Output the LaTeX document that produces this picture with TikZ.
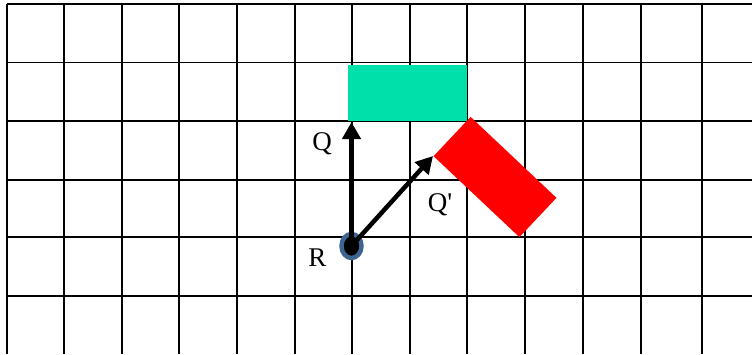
\documentclass[tikz,border=0pt]{standalone}
\usepackage{fontspec}
\setmainfont{Liberation Serif}[Ligatures=TeXOff]
\usetikzlibrary{arrows.meta,shapes.geometric}
\definecolor{tealgreen}{HTML}{00E0AA}
\definecolor{pureRed}{HTML}{FF0000}
\definecolor{ringblue}{HTML}{3E6492}
\tikzset{
  gridline/.style={line width=1.7pt,black},
  vecarrow/.style={line width=4.5pt,black,-{Triangle[length=17pt,width=18pt]}},
  lbl/.style={inner sep=0pt,anchor=base,font=\fontsize{27}{30}\selectfont},
}
\begin{document}
\begin{tikzpicture}[x=1pt,y=-1pt]
\useasboundingbox (0,0) rectangle (752,354);
% grid
\foreach \gx in {7,64,122,179,237,295,352,410,467,525,583,641,702}
  \draw[gridline] (\gx,4) -- (\gx,354);
\foreach \gy in {4,62.5,121,180,237,296}
  \draw[gridline] (7,\gy) -- (752,\gy);
% rectangles
\node[fill=tealgreen,minimum width=119pt,minimum height=56pt,inner sep=0pt] (green) at (407.5,93) {};
\node[fill=pureRed,minimum width=118pt,minimum height=54pt,inner sep=0pt,rotate=-43.3] (red) at (495,177) {};
% point R
\node[ellipse,draw=ringblue,fill=black,line width=4.5pt,minimum width=20pt,minimum height=24pt,inner sep=0pt] (R) at (351.5,246) {};
\coordinate (qtip) at (351.5,122);
\coordinate (qptip) at (433,156);
\draw[vecarrow] (R.center) -- (qtip);
\draw[vecarrow] (R.center) -- (qptip);
% labels
\node[lbl] (lq) at (322,150) {Q};
\node[lbl] (lr) at (317.5,266.5) {R};
\node[lbl] (lqp) at (440,211.5) {Q'};
\end{tikzpicture}
\end{document}
